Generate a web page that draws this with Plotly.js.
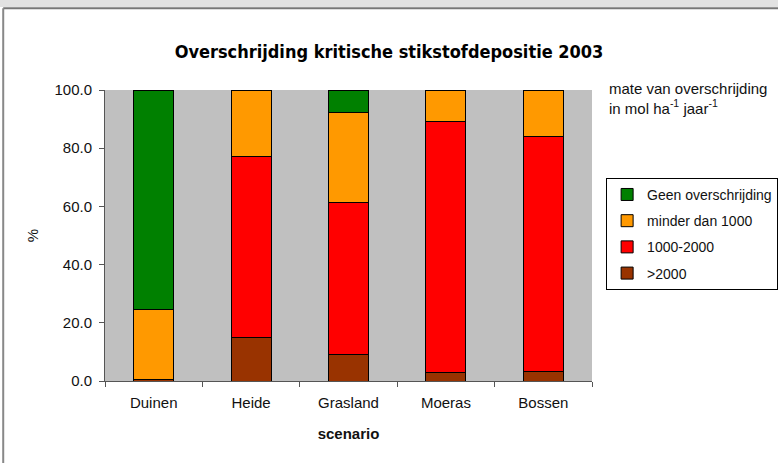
<!DOCTYPE html>
<html>
<head>
<meta charset="utf-8">
<script src="https://cdn.plot.ly/plotly-3.0.1.min.js"></script>
<style>
  html, body { margin: 0; padding: 0; background: #fff; }
  #chart { width: 778px; height: 463px; }
</style>
</head>
<body>
<div id="chart"></div>
<script>
// scenario categories
var scenarios = ['Duinen', 'Heide', 'Grasland', 'Moeras', 'Bossen'];

// percentages per exceedance class
var boven2000 = [0.5, 14.9, 9.2, 3.0, 3.4];
var tussen1000en2000 = [0.0, 62.4, 52.3, 86.2, 80.6];
var minderDan1000 = [24.0, 22.7, 30.6, 10.8, 16.0];
var geenOverschrijding = [75.5, 0.0, 7.9, 0.0, 0.0];

var yTicks = [0, 20, 40, 60, 80, 100];

function bar(name, values, color, rank) {
    return {
        type: 'bar',
        name: name,
        legendgroup: name,
        legendrank: rank,
        x: scenarios,
        y: values,
        marker: {
            color: color,
            line: { color: '#000', width: 1 }
        },
        hoverinfo: 'x+y+name'
    };
}

var traces = [
    bar('>2000', boven2000, '#993300', 4),
    bar('1000-2000', tussen1000en2000, '#ff0000', 3),
    bar('minder dan 1000', minderDan1000, '#ff9900', 2),
    bar('Geen overschrijding', geenOverschrijding, '#008000', 1)
];

var font = 'Arial, "Liberation Sans", sans-serif';

var layout = {
    width: 778,
    height: 463,
    margin: { l: 105, r: 186, t: 90, b: 82, autoexpand: false },
    paper_bgcolor: '#fff',
    plot_bgcolor: '#c0c0c0',
    barmode: 'stack',
    bargap: 0.59,
    font: { family: font, size: 14, color: '#111' },
    title: {
        text: 'Overschrijding kritische stikstofdepositie 2003',
        font: { family: '"Liberation Sans Narrow", "DejaVu Sans Condensed", "Arial Narrow", Arial, sans-serif', size: 18, color: '#000', weight: 'bold' },
        x: 390, xref: 'container', xanchor: 'center',
        y: 0.888, yref: 'container', yanchor: 'middle'
    },
    xaxis: {
        type: 'category',
        showline: true, linecolor: '#555', linewidth: 1,
        ticks: 'outside', ticklen: 5, tickcolor: '#555',
        tickson: 'boundaries',
        ticklabelstandoff: 8,
        tickfont: { size: 15 },
        showgrid: false,
        title: { text: 'scenario', font: { size: 15, weight: 'bold' }, standoff: 18 }
    },
    yaxis: {
        range: [0, 100],
        tickvals: yTicks,
        tickformat: '.1f',
        showline: true, linecolor: '#555', linewidth: 1,
        ticks: 'outside', ticklen: 5, tickcolor: '#555',
        ticklabelstandoff: 4,
        showgrid: false,
        zeroline: false,
        tickfont: { size: 15 },
        title: { text: '%', font: { size: 15 }, standoff: 12 }
    },
    legend: {
        x: 1.029, xanchor: 'left',
        y: 0.698, yanchor: 'top',
        traceorder: 'grouped',
        bordercolor: '#000', borderwidth: 1,
        bgcolor: '#fff',
        font: { size: 14 },
        tracegroupgap: 5,
        itemwidth: 30
    },
    annotations: [{
        xref: 'paper', yref: 'paper',
        x: 1.03, y: 1.04, xanchor: 'left', yanchor: 'top',
        align: 'left',
        showarrow: false,
        font: { size: 15 },
        text: 'mate van overschrijding<br>in mol ha<sup>-1</sup> jaar<sup>-1</sup>'
    }],
    shapes: [
        { type: 'rect', xref: 'paper', yref: 'paper', x0: -0.3, x1: 1.5, y0: 1.285, y1: 1.32,
          fillcolor: '#e2e2e2', line: { width: 0 }, layer: 'below' },
        { type: 'line', xref: 'paper', yref: 'paper', x0: -0.209, x1: 1.5, y0: 1.281, y1: 1.281,
          line: { color: '#777', width: 2 } },
        { type: 'line', xref: 'paper', yref: 'paper', x0: -0.209, x1: -0.209, y0: 1.281, y1: -0.3,
          line: { color: '#888', width: 2 } }
    ]
};

Plotly.newPlot('chart', traces, layout, { displayModeBar: false, staticPlot: true });
</script>
</body>
</html>
